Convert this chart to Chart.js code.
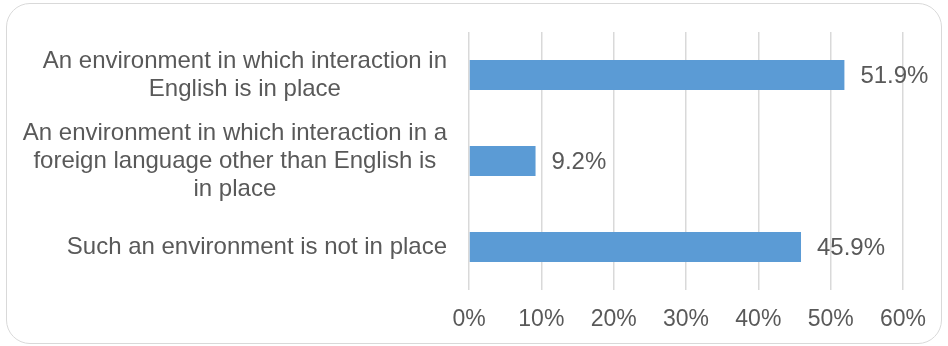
<!DOCTYPE html>
<html>
<head>
<meta charset="utf-8">
<script src="https://cdn.jsdelivr.net/npm/chart.js@4/dist/chart.umd.min.js"></script>
<style>
  html, body { margin: 0; padding: 0; background: #fff; }
  #wrap { position: relative; width: 948px; height: 346px; }
  #frame {
    position: absolute; left: 6px; top: 3px; width: 936px; height: 341px;
    box-sizing: border-box; border: 1.5px solid #d9d9d9; border-radius: 24px;
    pointer-events: none;
  }
  canvas { position: absolute; left: 0; top: 0; }
</style>
</head>
<body>
<div id="wrap">
  <canvas id="survey-chart" width="948" height="346"></canvas>
  <div id="frame"></div>
</div>
<script>
// each answer is split into the lines it is printed on
const categories = [
  ['An environment in which interaction in', 'English is in place'],
  ['An environment in which interaction in a', 'foreign language other than English is', 'in place'],
  ['Such an environment is not in place']
];
const shares = [51.9, 9.2, 45.9];
const tickValues = [0, 10, 20, 30, 40, 50, 60];

const FONT = '"Liberation Sans", Arial, sans-serif';
const TEXT_COLOR = '#595959';
const GRID_COLOR = '#d9d9d9';
const BAR_COLOR = '#5b9bd5';
const LABEL_SIZE = 24;
const LINE_HEIGHT = 28;

function formatPercent(value) {
  return `${value}%`;
}

// category names: lines centred on each other, block right-aligned to the axis
const categoryLabels = {
  id: 'categoryLabels',
  afterDraw(chart) {
    const { ctx } = chart;
    const yScale = chart.scales.y;
    ctx.save();
    ctx.font = `${LABEL_SIZE}px ${FONT}`;
    ctx.fillStyle = TEXT_COLOR;
    ctx.textAlign = 'center';
    ctx.textBaseline = 'middle';
    categories.forEach((lines, i) => {
      const widest = Math.max(...lines.map(line => ctx.measureText(line).width));
      const cx = yScale.right - 22 - widest / 2;
      const cy = yScale.getPixelForTick(i);
      const top = cy - (lines.length - 1) * LINE_HEIGHT / 2;
      lines.forEach((line, j) => ctx.fillText(line, cx, top + j * LINE_HEIGHT));
    });
    ctx.restore();
  }
};

// value printed just past the end of each bar
const valueLabels = {
  id: 'valueLabels',
  afterDatasetsDraw(chart) {
    const { ctx } = chart;
    const bars = chart.getDatasetMeta(0).data;
    ctx.save();
    ctx.font = `${LABEL_SIZE}px ${FONT}`;
    ctx.fillStyle = TEXT_COLOR;
    ctx.textAlign = 'left';
    ctx.textBaseline = 'middle';
    bars.forEach((bar, i) => {
      ctx.fillText(formatPercent(shares[i].toFixed(1)), bar.x + 16, bar.y + 1);
    });
    ctx.restore();
  }
};

const canvas = document.getElementById('survey-chart');
new Chart(canvas.getContext('2d'), {
  type: 'bar',
  data: {
    labels: categories,
    datasets: [{
      data: shares,
      backgroundColor: BAR_COLOR,
      categoryPercentage: 0.7,
      barPercentage: 0.5
    }]
  },
  options: {
    indexAxis: 'y',
    responsive: false,
    animation: false,
    events: [],
    layout: { padding: { left: 0, right: 45, top: 32, bottom: 0 } },
    plugins: {
      legend: { display: false },
      tooltip: { enabled: false }
    },
    scales: {
      x: {
        min: tickValues[0],
        max: tickValues[tickValues.length - 1],
        afterBuildTicks: scale => {
          scale.ticks = tickValues.map(value => ({ value }));
        },
        afterFit: scale => { scale.height = 56; },
        border: { display: false },
        grid: { color: GRID_COLOR, lineWidth: 1.5, drawTicks: false },
        ticks: {
          padding: 16,
          color: TEXT_COLOR,
          font: { family: FONT, size: 23 },
          callback: value => formatPercent(value)
        }
      },
      y: {
        afterFit: scale => { scale.width = 469; },
        border: { display: false },
        grid: { display: false },
        ticks: { display: false }
      }
    }
  },
  plugins: [categoryLabels, valueLabels]
});
</script>
</body>
</html>
